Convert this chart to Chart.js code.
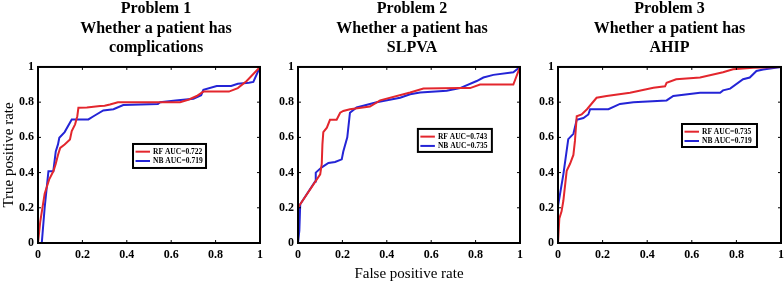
<!DOCTYPE html>
<html>
<head>
<meta charset="utf-8">
<script src="https://cdn.jsdelivr.net/npm/chart.js@4.4.0/dist/chart.umd.min.js"></script>
<style>
  html, body { margin: 0; padding: 0; background: #fff; overflow: hidden; }
  #wrap { position: relative; width: 784px; height: 283px; overflow: hidden; }
  canvas { position: absolute; top: -4px; }
</style>
</head>
<body>
<div id="wrap">
  <canvas id="roc1" width="312" height="287" style="left:0px"></canvas>
  <canvas id="roc2" width="300" height="287" style="left:262px"></canvas>
  <canvas id="roc3" width="295" height="287" style="left:522px"></canvas>
</div>
<script>
// Axis ticks (same on every panel)
const tickValues = [0, 0.2, 0.4, 0.6, 0.8, 1];
const tickLabels = ['0', '0.2', '0.4', '0.6', '0.8', '1'];

// Problem 1 - complications
const rf1X = [0, 0.01, 0.03, 0.05, 0.07, 0.08, 0.09, 0.10, 0.12, 0.144, 0.152, 0.167, 0.177, 0.182, 0.22, 0.28, 0.30, 0.324, 0.36, 0.50, 0.64, 0.68, 0.715, 0.745, 0.86, 0.88, 0.90, 0.94, 1];
const rf1Y = [0, 0.12, 0.28, 0.36, 0.41, 0.45, 0.50, 0.54, 0.56, 0.588, 0.636, 0.674, 0.72, 0.768, 0.77, 0.778, 0.78, 0.787, 0.80, 0.80, 0.80, 0.815, 0.835, 0.86, 0.86, 0.87, 0.88, 0.92, 1];
const nb1X = [0, 0.017, 0.03, 0.047, 0.069, 0.08, 0.09, 0.096, 0.12, 0.152, 0.227, 0.25, 0.294, 0.34, 0.384, 0.54, 0.55, 0.62, 0.70, 0.735, 0.745, 0.805, 0.87, 0.90, 0.95, 0.97, 1];
const nb1Y = [0, 0, 0.20, 0.408, 0.408, 0.52, 0.56, 0.598, 0.63, 0.702, 0.702, 0.72, 0.753, 0.76, 0.784, 0.79, 0.80, 0.81, 0.82, 0.84, 0.87, 0.892, 0.892, 0.905, 0.91, 0.915, 1];

// Problem 2 - SLPVA
const rf2X = [0, 0, 0.01, 0.10, 0.107, 0.11, 0.114, 0.13, 0.144, 0.174, 0.19, 0.204, 0.234, 0.324, 0.37, 0.505, 0.565, 0.73, 0.775, 0.82, 0.97, 1];
const rf2Y = [0, 0.20, 0.22, 0.39, 0.45, 0.56, 0.63, 0.655, 0.70, 0.70, 0.74, 0.75, 0.76, 0.775, 0.81, 0.855, 0.877, 0.88, 0.88, 0.90, 0.90, 1];
const nb2X = [0, 0.006, 0.01, 0.077, 0.08, 0.107, 0.137, 0.167, 0.197, 0.204, 0.222, 0.234, 0.264, 0.294, 0.354, 0.46, 0.505, 0.55, 0.67, 0.73, 0.805, 0.835, 0.88, 0.97, 1];
const nb2Y = [0, 0.07, 0.22, 0.35, 0.40, 0.43, 0.455, 0.46, 0.475, 0.52, 0.60, 0.74, 0.77, 0.78, 0.80, 0.825, 0.845, 0.855, 0.865, 0.88, 0.92, 0.94, 0.955, 0.97, 1];

// Problem 3 - AHIP
const rf3X = [0, 0.006, 0.016, 0.024, 0.039, 0.054, 0.069, 0.076, 0.084, 0.106, 0.13, 0.173, 0.218, 0.323, 0.428, 0.48, 0.487, 0.53, 0.637, 0.74, 0.785, 0.875, 1];
const rf3Y = [0, 0.14, 0.18, 0.24, 0.41, 0.45, 0.50, 0.58, 0.72, 0.73, 0.76, 0.825, 0.835, 0.854, 0.882, 0.89, 0.91, 0.93, 0.94, 0.97, 0.987, 0.995, 1];
const nb3X = [0, 0, 0.024, 0.046, 0.069, 0.084, 0.114, 0.136, 0.144, 0.226, 0.278, 0.338, 0.487, 0.517, 0.637, 0.727, 0.74, 0.772, 0.83, 0.86, 0.89, 0.92, 1];
const nb3Y = [0, 0.21, 0.39, 0.59, 0.62, 0.70, 0.71, 0.73, 0.76, 0.76, 0.79, 0.80, 0.81, 0.835, 0.854, 0.854, 0.867, 0.877, 0.93, 0.94, 0.977, 0.985, 1];

const serif = '"Liberation Serif", "Times New Roman", serif';
Chart.defaults.color = '#000';
Chart.defaults.font.family = serif;

function toPoints(xs, ys) {
    return xs.map((x, i) => ({ x: x, y: ys[i] }));
}

function tickLabel(value) {
    const i = tickValues.findIndex(t => Math.abs(t - value) < 1e-9);
    return i >= 0 ? tickLabels[i] : '';
}

// box round the plot with inward tick marks on all four sides
const framePlugin = {
    id: 'frame',
    afterDatasetsDraw(chart) {
        const { ctx, chartArea: a, scales } = chart;
        ctx.save();
        ctx.strokeStyle = '#000';
        ctx.lineWidth = 1;
        ctx.beginPath();
        scales.x.ticks.forEach(t => {
            const px = scales.x.getPixelForValue(t.value);
            ctx.moveTo(px, a.bottom); ctx.lineTo(px, a.bottom - 3);
            ctx.moveTo(px, a.top); ctx.lineTo(px, a.top + 3);
        });
        scales.y.ticks.forEach(t => {
            const py = scales.y.getPixelForValue(t.value);
            ctx.moveTo(a.left, py); ctx.lineTo(a.left + 3, py);
            ctx.moveTo(a.right, py); ctx.lineTo(a.right - 3, py);
        });
        ctx.stroke();
        ctx.lineWidth = 2;
        ctx.strokeRect(a.left, a.top, a.right - a.left, a.bottom - a.top);
        ctx.restore();
    }
};

// small boxed legend placed inside the plot (position in axis units)
const aucLegend = {
    id: 'aucLegend',
    afterDraw(chart, args, opts) {
        const { ctx, scales } = chart;
        const left = scales.x.getPixelForValue(opts.x);
        const top = scales.y.getPixelForValue(opts.y);
        ctx.save();
        ctx.fillStyle = '#fff';
        ctx.fillRect(left, top, opts.width, opts.height);
        ctx.lineWidth = 2;
        ctx.strokeStyle = '#000';
        ctx.strokeRect(left, top, opts.width, opts.height);
        ctx.font = 'bold 7.5px ' + serif;
        ctx.textBaseline = 'middle';
        chart.data.datasets.forEach((ds, i) => {
            const cy = top + 7.7 + i * 9.3;
            ctx.strokeStyle = ds.borderColor;
            ctx.beginPath();
            ctx.moveTo(left + 2.5, cy);
            ctx.lineTo(left + 17, cy);
            ctx.stroke();
            ctx.fillStyle = '#000';
            ctx.fillText(ds.label, left + 20, cy);
        });
        ctx.restore();
    }
};

function makeRoc(id, cfg) {
    const ctx = document.getElementById(id).getContext('2d');
    return new Chart(ctx, {
        type: 'line',
        data: {
            datasets: [{
                label: cfg.rfLabel,
                data: toPoints(cfg.rfX, cfg.rfY),
                borderColor: '#e3262d',
                borderWidth: 2,
                pointRadius: 0,
                tension: 0
            }, {
                label: cfg.nbLabel,
                data: toPoints(cfg.nbX, cfg.nbY),
                borderColor: '#2424d6',
                borderWidth: 2,
                pointRadius: 0,
                tension: 0
            }]
        },
        options: {
            responsive: false,
            animation: false,
            devicePixelRatio: 1,
            layout: { padding: 0 },
            scales: {
                x: {
                    type: 'linear',
                    min: 0,
                    max: 1,
                    afterBuildTicks: s => { s.ticks = tickValues.map(v => ({ value: v })); },
                    afterFit: s => { s.height = 40; },
                    grid: { display: false, drawTicks: false },
                    border: { display: false },
                    ticks: {
                        padding: 5,
                        maxRotation: 0,
                        font: { size: 12, weight: 'bold' },
                        callback: tickLabel
                    },
                    title: {
                        display: cfg.xTitle,
                        text: 'False positive rate',
                        font: { size: 15 },
                        padding: 0
                    }
                },
                y: {
                    type: 'linear',
                    min: 0,
                    max: 1,
                    afterBuildTicks: s => { s.ticks = tickValues.map(v => ({ value: v })); },
                    afterFit: s => { s.width = cfg.leftWidth; },
                    grid: { display: false, drawTicks: false },
                    border: { display: false },
                    ticks: {
                        padding: 4,
                        font: { size: 12, weight: 'bold' },
                        callback: tickLabel
                    },
                    title: {
                        display: cfg.yTitle,
                        text: 'True positive rate',
                        font: { size: 15 },
                        padding: 0
                    }
                },
                yr: {
                    type: 'linear',
                    position: 'right',
                    min: 0,
                    max: 1,
                    afterFit: s => { s.width = cfg.rightWidth; },
                    grid: { display: false, drawTicks: false },
                    border: { display: false },
                    ticks: { display: false }
                }
            },
            plugins: {
                legend: { display: false },
                tooltip: { enabled: false },
                title: {
                    display: true,
                    text: cfg.title,
                    font: { size: 16, weight: 'bold', lineHeight: 1.22 },
                    padding: { top: 3.5, bottom: 8.9 }
                },
                aucLegend: cfg.legend
            }
        },
        plugins: [framePlugin, aucLegend]
    });
}

makeRoc('roc1', {
    title: ['Problem 1', 'Whether a patient has', 'complications'],
    rfLabel: 'RF AUC=0.722', nbLabel: 'NB AUC=0.719',
    rfX: rf1X, rfY: rf1Y, nbX: nb1X, nbY: nb1Y,
    leftWidth: 38, rightWidth: 52, yTitle: true, xTitle: false,
    legend: { x: 0.428, y: 0.5625, width: 73, height: 24 }
});

makeRoc('roc2', {
    title: ['Problem 2', 'Whether a patient has', 'SLPVA'],
    rfLabel: 'RF AUC=0.743', nbLabel: 'NB AUC=0.735',
    rfX: rf2X, rfY: rf2Y, nbX: nb2X, nbY: nb2Y,
    leftWidth: 36, rightWidth: 42, yTitle: false, xTitle: true,
    legend: { x: 0.54, y: 0.648, width: 74, height: 23 }
});

makeRoc('roc3', {
    title: ['Problem 3', 'Whether a patient has', 'AHIP'],
    rfLabel: 'RF AUC=0.735', nbLabel: 'NB AUC=0.719',
    rfX: rf3X, rfY: rf3Y, nbX: nb3X, nbY: nb3Y,
    leftWidth: 36, rightWidth: 36, yTitle: false, xTitle: false,
    legend: { x: 0.556, y: 0.676, width: 75, height: 23 }
});
</script>
</body>
</html>
